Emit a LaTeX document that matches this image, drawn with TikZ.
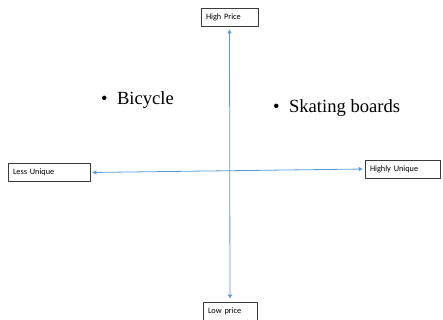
\documentclass[tikz,border=0pt]{standalone}
\usepackage{fontspec}
\setmainfont{Liberation Serif}
\newfontfamily\labelfont{Carlito}
\usetikzlibrary{arrows.meta}
\definecolor{axisblue}{RGB}{91,155,213}
\definecolor{boxgray}{RGB}{60,60,60}
\begin{document}
\begin{tikzpicture}[x=1pt,y=-1pt,
  lbox/.style={draw=boxgray,line width=0.8pt,minimum height=18pt,inner xsep=5pt,inner ysep=0pt,
    font=\labelfont\fontsize{8.3}{9}\selectfont,text height=6pt,text depth=1.8pt,align=left},
  axis/.style={draw=axisblue,line width=0.8pt,{Triangle[length=4pt,width=4pt]}-{Triangle[length=4pt,width=4pt]}},
  item/.style={font=\fontsize{18.6}{20}\selectfont,anchor=west,inner sep=0pt}]
\useasboundingbox (0,0) rectangle (443,320);
\node[lbox,text width=47pt] (hp) at (229.5,17) {High Price};
\node[lbox,text width=44pt] (lp) at (230,311) {Low price};
\node[lbox,text width=72pt] (lu) at (49,172.5) {Less Unique};
\node[lbox,text width=65pt] (hu) at (402.5,169) {Highly Unique};
\draw[axis,shorten <=3pt,shorten >=3pt] (hp.south) -- (lp.north);
\draw[axis,shorten <=2pt,shorten >=2pt] (lu.east) -- (hu.west);
\node[item] (bi) at (101,100) {\textbullet\ \ Bicycle};
\node[item] (sk) at (273,108) {\textbullet\ \ Skating boards};
\end{tikzpicture}
\end{document}
